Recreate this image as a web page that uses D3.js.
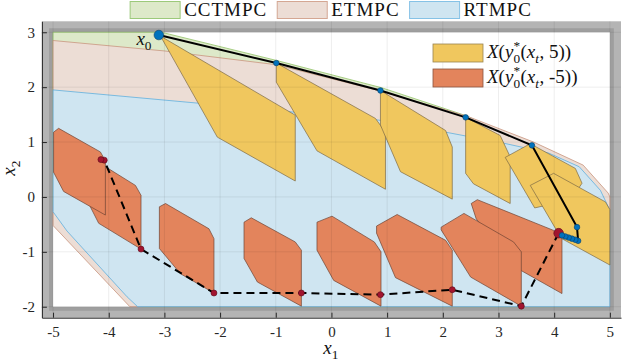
<!DOCTYPE html>
<html>
<head>
<meta charset="utf-8">
<script src="https://cdn.jsdelivr.net/npm/d3@7"></script>
<style>
  body { margin: 0; background: #fff; }
  svg { display: block; }
  text { white-space: pre; }
</style>
</head>
<body>
<div id="chart"></div>
<script>
// Feasible regions of the three controllers (vertices)
const cctmpcRegion = [[-5, 3], [-3.05, 3], [-1, 2.49], [0.9, 1.99], [2.42, 1.48], [3.5, 0.96], [4.2, 0.55], [4.7, 0.0], [4.9, -0.5], [4.9, -2], [-3.4, -2], [-4.9, -0.35], [-5, -0.15]];
const etmpcRegion = [[-5, 2.85], [-3, 2.66], [-1, 2.41], [0.88, 1.93], [2.44, 1.47], [3.63, 1.0], [4.52, 0.58], [4.97, 0.07], [5, 0.0], [5, -2], [-3.62, -2], [-5, -0.52]];
const rtmpcRegion = [[-5, 1.95], [-2.41, 1.71], [0.85, 1.40], [2.0, 1.19], [3.09, 0.98], [3.9, 0.8], [4.45, 0.55], [4.83, 0.12], [5, -0.24], [5, -2], [-3.48, -2], [-3.67, -1.82], [-4.75, -0.62], [-5, -0.27]];

// Sets X(y0*(x_t, 5)) along the first trajectory
const upperSets = [
  [[-3.07, 2.93], [-2.05, 1.09], [-0.65, 0.29], [-0.65, 1.49]],
  [[-0.99, 2.44], [-0.99, 2.09], [-0.26, 0.84], [0.97, 0.14], [0.97, 1.18], [0.79, 1.43]],
  [[0.88, 1.94], [0.88, 1.31], [1.24, 0.46], [2.17, -0.04], [2.17, 0.91], [2.05, 1.21]],
  [[2.41, 1.45], [2.41, 0.43], [2.55, 0.24], [3.21, -0.12], [3.21, 0.73], [3.03, 1.12]],
  [[3.12, 0.72], [3.57, 0.97], [4.38, 0.52], [4.50, 0.25], [4.30, -0.05], [3.65, -0.2]],
  [[3.57, 0.21], [3.99, 0.43], [4.92, -0.09], [5.0, -0.23], [5.0, -1.24], [4.12, -0.75], [4.05, -0.62]]
];

// Sets X(y0*(x_t, -5)) along the second trajectory (drawn right to left)
const lowerSets = [
  [[2.51, -0.12], [2.62, -0.05], [3.99, -0.61], [4.14, -0.73], [4.14, -1.76], [3.3, -1.28], [2.6, -0.4]],
  [[1.97, -0.55], [2.38, -0.30], [3.27, -0.82], [3.41, -1.0], [3.41, -1.99], [2.50, -1.46], [1.97, -0.6]],
  [[0.81, -0.53], [1.18, -0.32], [2.05, -0.79], [2.17, -0.97], [2.17, -1.99], [1.15, -1.47], [0.81, -0.66]],
  [[-0.26, -0.46], [0.01, -0.35], [0.77, -0.82], [0.89, -1.0], [0.89, -1.99], [0.04, -1.52], [-0.26, -0.97]],
  [[-1.57, -0.46], [-1.44, -0.38], [-0.65, -0.82], [-0.54, -0.97], [-0.54, -1.99], [-1.33, -1.55], [-1.57, -1.12]],
  [[-3.09, -0.18], [-2.98, -0.12], [-2.20, -0.58], [-2.11, -0.76], [-2.11, -1.75], [-2.71, -1.40], [-3.09, -0.94]],
  [[-3.42, -0.95], [-3.42, 0.03], [-3.52, 0.21], [-4.36, 0.74], [-4.36, -0.12], [-4.18, -0.48]],
  [[-4.99, 1.18], [-4.90, 1.25], [-4.15, 0.82], [-4.06, 0.66], [-4.06, -0.33], [-4.81, 0.10], [-4.99, 0.45]]
];

// Closed-loop trajectories
const upperTraj = [[-3.1, 2.95], [-0.99, 2.44], [0.88, 1.94], [2.41, 1.45], [3.60, 0.94], [4.41, -0.55], [4.43, -0.80], [4.38, -0.78], [4.32, -0.76], [4.26, -0.74], [4.20, -0.72], [4.14, -0.70]];
const lowerTraj = [[4.08, -0.66], [3.41, -1.99], [2.17, -1.69], [0.88, -1.78], [-0.54, -1.75], [-2.11, -1.75], [-3.42, -0.95], [-4.08, 0.67], [-4.14, 0.68]];

const xTicks = [-5, -4, -3, -2, -1, 0, 1, 2, 3, 4, 5];
const yTicks = [-2, -1, 0, 1, 2, 3];
const regionNames = ["CCTMPC", "ETMPC", "RTMPC"];

const W = 623, H = 364;
const serif = "Liberation Serif, DejaVu Serif, serif";

const svg = d3.select("#chart").append("svg")
  .attr("width", W).attr("height", H)
  .attr("font-family", serif);

const x = d3.scaleLinear().domain([-5.2, 5.2]).range([41.9, 621]);
const y = d3.scaleLinear().domain([-2.2, 3.2]).range([317.7, 21.3]);
const line = d3.line().x(d => x(d[0])).y(d => y(d[1]));
const poly = d => line(d) + "Z";

// Gray band outside the state constraints
svg.append("rect")
  .attr("x", x(-5.2)).attr("y", y(3.2))
  .attr("width", x(5.2) - x(-5.2)).attr("height", y(-2.2) - y(3.2))
  .attr("fill", "#b4b4b4");
svg.append("rect")
  .attr("x", x(-5) - 4).attr("y", y(3) - 4)
  .attr("width", x(5) - x(-5) + 8).attr("height", y(-2) - y(3) + 8)
  .attr("fill", "#9e9e9e");
svg.append("rect")
  .attr("x", x(-5)).attr("y", y(3))
  .attr("width", x(5) - x(-5)).attr("height", y(-2) - y(3))
  .attr("fill", "#fff");

// Regions
const regionStyles = [
  { fill: "#dde9c9", stroke: "#93c36a" },
  { fill: "#ecddd5", stroke: "#c9957f" },
  { fill: "#cfe5f1", stroke: "#5fb0de" }
];
[cctmpcRegion, etmpcRegion, rtmpcRegion].forEach((r, i) => {
  svg.append("path").attr("d", poly(r))
    .attr("fill", regionStyles[i].fill)
    .attr("stroke", regionStyles[i].stroke)
    .attr("stroke-width", 0.8);
});

// Tube sets
svg.selectAll(".upper").data(upperSets).enter().append("path")
  .attr("class", "upper").attr("d", poly)
  .attr("fill", "#f0c75e").attr("stroke", "#7d6a45").attr("stroke-width", 0.7);
svg.selectAll(".lower").data(lowerSets).enter().append("path")
  .attr("class", "lower").attr("d", poly)
  .attr("fill", "#e3845c").attr("stroke", "#6e4434").attr("stroke-width", 0.7);

// Grid
svg.selectAll(".gx").data(xTicks).enter().append("line")
  .attr("x1", d => x(d)).attr("x2", d => x(d))
  .attr("y1", y(3.2)).attr("y2", y(-2.2))
  .attr("stroke", "#000").attr("stroke-opacity", 0.07);
svg.selectAll(".gy").data(yTicks).enter().append("line")
  .attr("x1", x(-5.2)).attr("x2", x(5.2))
  .attr("y1", d => y(d)).attr("y2", d => y(d))
  .attr("stroke", "#000").attr("stroke-opacity", 0.07);

// Trajectories
svg.append("path").attr("d", line(lowerTraj))
  .attr("fill", "none").attr("stroke", "#000")
  .attr("stroke-width", 2).attr("stroke-dasharray", "8,5");
svg.append("path").attr("d", line(upperTraj))
  .attr("fill", "none").attr("stroke", "#000").attr("stroke-width", 2);

svg.selectAll(".rp").data(lowerTraj).enter().append("circle")
  .attr("cx", d => x(d[0])).attr("cy", d => y(d[1]))
  .attr("r", (d, i) => i === 0 ? 4.8 : 3)
  .attr("fill", "#a2142f").attr("stroke", "#5c0a1a").attr("stroke-width", 0.6);
svg.selectAll(".bp").data(upperTraj).enter().append("circle")
  .attr("cx", d => x(d[0])).attr("cy", d => y(d[1]))
  .attr("r", (d, i) => i === 0 ? 4.8 : 2.8)
  .attr("fill", "#0072bd").attr("stroke", "#0b3f66").attr("stroke-width", 0.6);

// Axes
const axisColor = "#262626";
const gx = svg.append("g")
  .attr("transform", `translate(0,${y(-2.2)})`)
  .call(d3.axisBottom(x).tickValues(xTicks).tickSizeInner(-5).tickSizeOuter(0).tickPadding(9));
const gy = svg.append("g")
  .attr("transform", `translate(${x(-5.2)},0)`)
  .call(d3.axisLeft(y).tickValues(yTicks).tickSizeInner(-5).tickSizeOuter(0).tickPadding(7));
[gx, gy].forEach(g => {
  g.attr("font-family", serif).attr("font-size", 15);
  g.select(".domain").attr("stroke", axisColor);
  g.selectAll(".tick line").attr("stroke", axisColor);
  g.selectAll(".tick text")
    .attr("fill", axisColor)
    .attr("font-family", serif)
    .text(d => String(d));
});

// Math-style label built from measured pieces
function mathLabel(sel, parts, size) {
  const g = sel.append("g");
  let cx = 0;
  const piece = (tx, ty, fs, italic, str) => g.append("text")
    .attr("x", tx).attr("y", ty)
    .attr("font-family", serif).attr("font-size", fs)
    .attr("font-style", italic ? "italic" : "normal")
    .attr("fill", "#111").text(str);
  parts.forEach(p => {
    if (p.sup !== undefined || p.sub !== undefined) {
      let w = 0;
      if (p.sup) w = Math.max(w, piece(cx, -0.42 * size, 0.7 * size, false, p.sup).node().getComputedTextLength());
      if (p.sub) w = Math.max(w, piece(cx, 0.28 * size, 0.7 * size, p.subIt, p.sub).node().getComputedTextLength());
      cx += w + 0.5;
    } else {
      cx += piece(cx, 0, size, p.it, p.t).node().getComputedTextLength();
    }
  });
  g.datum(cx);
  return g;
}
const place = (g, px, py, anchor) => {
  const w = g.datum();
  const shift = anchor === "middle" ? -w / 2 : anchor === "end" ? -w : 0;
  g.attr("transform", `translate(${px + shift},${py})`);
};

// Axis labels
place(mathLabel(svg, [{ t: "x", it: true }, { sub: "1" }], 19), 331, 354, "middle");
const yl = mathLabel(svg, [{ t: "x", it: true }, { sub: "2" }], 19);
yl.attr("transform", `translate(15,168) rotate(-90) translate(${-yl.datum() / 2},0)`);

// x0 label
place(mathLabel(svg, [{ t: "x", it: true }, { sub: "0" }], 19), 152, 45, "end");

// Inner legend
const setLegend = [
  { fill: "#f0c75e", stroke: "#9a8450", arg: "5" },
  { fill: "#e3845c", stroke: "#8a5440", arg: "-5" }
];
setLegend.forEach((d, i) => {
  const top = 44 + i * 25;
  svg.append("rect").attr("x", 433).attr("y", top).attr("width", 50).attr("height", 18)
    .attr("fill", d.fill).attr("stroke", d.stroke).attr("stroke-width", 0.8);
  place(mathLabel(svg, [
    { t: "X", it: true }, { t: "(" }, { t: "y", it: true }, { sup: "*", sub: "0" },
    { t: "(" }, { t: "x", it: true }, { sub: "t", subIt: true }, { t: ", " + d.arg + "))" }
  ], 19), 487, top + 14, "start");
});

// Top legend
const legendStyles = [
  { fill: "#dde9c9", stroke: "#9cc97a" },
  { fill: "#ecddd5", stroke: "#d4a793" },
  { fill: "#cfe5f1", stroke: "#86c2e6" }
];
const lg = svg.append("g");
let lx = 0;
regionNames.forEach((name, i) => {
  lg.append("rect").attr("x", lx).attr("y", 1.5).attr("width", 50).attr("height", 17)
    .attr("fill", legendStyles[i].fill).attr("stroke", legendStyles[i].stroke).attr("stroke-width", 1);
  const t = lg.append("text").attr("x", lx + 54).attr("y", 16)
    .attr("font-family", serif).attr("font-size", 19)
    .style("letter-spacing", "1px")
    .attr("fill", "#111").text(name);
  lx += 54 + t.node().getComputedTextLength() + (i < regionNames.length - 1 ? 10 : 0);
});
lg.attr("transform", `translate(${331 - lx / 2},0)`);
</script>
</body>
</html>
